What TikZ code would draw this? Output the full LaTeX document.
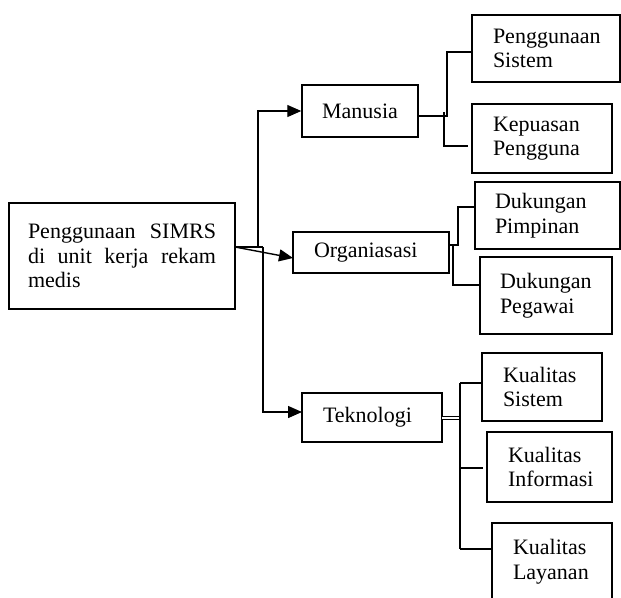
\documentclass[tikz,border=0pt]{standalone}
\usepackage{fontspec}
\setmainfont{Liberation Serif}
\usetikzlibrary{arrows.meta,calc}
\begin{document}
\begin{tikzpicture}[x=1pt,y=-1pt,
  box/.style={draw,line width=1.5pt,rectangle,inner sep=0pt,font=\fontsize{22}{24.5}\selectfont,align=left},
  conn/.style={line width=1.4pt},
  arr/.style={conn,-{Triangle[length=14pt,width=12pt]}}]
\useasboundingbox (0,0) rectangle (621,597);
\clip (0,0) rectangle (621,597);
% boxes
\node[box,minimum width=226pt,minimum height=106pt,text width=188pt,align=justify] (main) at (122,256)
  {\hyphenpenalty=10000 Penggunaan SIMRS\linebreak di unit kerja rekam\linebreak medis};
\node[box,minimum width=116pt,minimum height=52pt] (man) at (360,111) {Manusia};
\node[box,minimum width=156pt,minimum height=41pt,text width=114pt] (org) at (371,252.5) {\raisebox{-4pt}{Organiasasi}};
\node[box,minimum width=140pt,minimum height=49pt,text width=98pt] (tek) at (372,417.5) {Teknologi};
\node[box,minimum width=148pt,minimum height=67pt,text width=106pt] (ps) at (546,48.5) {Penggunaan\\Sistem};
\node[box,minimum width=140pt,minimum height=69pt,text width=98pt] (kp) at (542,138.5) {Kepuasan\\Pengguna};
\node[box,minimum width=145pt,minimum height=67pt,text width=105pt] (dpim) at (547.5,215.5) {Dukungan\\Pimpinan};
\node[box,minimum width=132pt,minimum height=77pt,text width=92pt] (dpeg) at (546,295.5) {Dukungan\\Pegawai};
\node[box,minimum width=120pt,minimum height=68pt,text width=78pt] (ks) at (542,387) {Kualitas\\Sistem};
\node[box,minimum width=125pt,minimum height=70pt,text width=83pt] (ki) at (549.5,467) {Kualitas\\Informasi};
\node[box,minimum width=120pt,minimum height=77pt,text width=78pt] (kl) at (552,561.5) {Kualitas\\Layanan};
% junction coordinates
\coordinate (m0) at (235,247);
\coordinate (j1) at (258,247);
\coordinate (j2) at (263,247);
\coordinate (oa) at (293,258);
\coordinate (ta) at (302,412);
\coordinate (mo) at (418,116);
\coordinate (mj) at (447,116);
\coordinate (mk) at (444,112);
\coordinate (pa) at (472,52);
\coordinate (ka) at (468,146);
\coordinate (oo) at (449,245);
\coordinate (oj) at (458,245);
\coordinate (ok) at (453,245);
\coordinate (da) at (475,207);
\coordinate (db) at (480,285);
\coordinate (to) at (442,418);
\coordinate (tj) at (460,418);
\coordinate (ksa) at (482,383);
\coordinate (kia) at (483,468);
\coordinate (kla) at (492,549);
% main connectors
\draw[conn] (m0) -- (j2);
\draw[arr] (j1) |- (man.west);
\draw[arr] (m0) -- (oa);
\draw[arr] (j2) |- (ta);
% manusia branch
\draw[conn] (mo) -- (mj) -- (mj |- pa) -- (pa);
\draw[conn] (mk) -- (mk |- ka) -- (ka);
% organisasi branch
\draw[conn] (oo) -- (oj) -- (oj |- da) -- (da);
\draw[conn] (ok) -- (ok |- db) -- (db);
% teknologi branch
\draw[line width=1pt,double,double distance=1.3pt] (to) -- (tj);
\draw[conn] (tj |- ksa) -- (tj |- kla);
\draw[conn] (tj |- ksa) -- (ksa);
\draw[conn] (tj |- kia) -- (kia);
\draw[conn] (tj |- kla) -- (kla);
\end{tikzpicture}
\end{document}
